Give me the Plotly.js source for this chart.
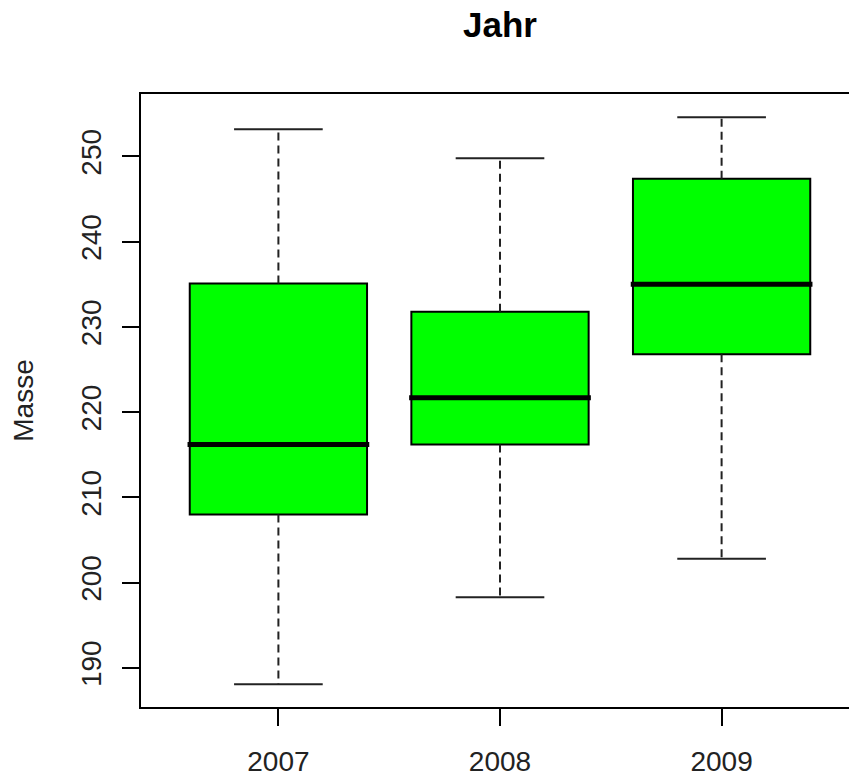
<!DOCTYPE html>
<html>
<head>
<meta charset="utf-8">
<script src="https://cdn.plot.ly/plotly-3.0.1.min.js"></script>
<style>
html, body { margin:0; padding:0; overflow:hidden; background:#fff; width:849px; height:778px; }
#chart { width:870px; height:778px; }
</style>
</head>
<body>
<div id="chart"></div>
<script>
// Data
const categories = ["2007", "2008", "2009"];
const positions = [1, 2, 3];
const lowerWhisker = [188.1, 198.3, 202.8];
const q1Values = [208.0, 216.2, 226.8];
const medianValues = [216.2, 221.7, 235.0];
const q3Values = [235.1, 231.8, 247.4];
const upperWhisker = [253.2, 249.8, 254.6];
const yTicks = [190, 200, 210, 220, 230, 240, 250];

const boxHalf = 0.4;
const capHalf = 0.2;
const font = "Liberation Sans, Arial, sans-serif";

const traces = [];

// Boxes (no whiskers: fences set to the quartiles)
traces.push({
  type: "box",
  x: positions,
  q1: q1Values,
  median: medianValues,
  q3: q3Values,
  lowerfence: q1Values,
  upperfence: q3Values,
  width: boxHalf * 2,
  whiskerwidth: 0,
  fillcolor: "#00FF00",
  line: { color: "#000000", width: 2 },
  boxpoints: false,
  hoverinfo: "skip",
  showlegend: false
});

// Dashed whiskers
const wx = [], wy = [];
positions.forEach((p, i) => {
  wx.push(p, p, null, p, p, null);
  wy.push(q3Values[i], upperWhisker[i], null, q1Values[i], lowerWhisker[i], null);
});
traces.push({
  type: "scatter", mode: "lines", x: wx, y: wy,
  line: { color: "#222222", width: 2, dash: "8px,5px" },
  hoverinfo: "skip", showlegend: false
});

// Staples (caps)
const cx = [], cy = [];
positions.forEach((p, i) => {
  cx.push(p - capHalf, p + capHalf, null, p - capHalf, p + capHalf, null);
  cy.push(upperWhisker[i], upperWhisker[i], null, lowerWhisker[i], lowerWhisker[i], null);
});
traces.push({
  type: "scatter", mode: "lines", x: cx, y: cy,
  line: { color: "#222222", width: 2 },
  hoverinfo: "skip", showlegend: false
});

// Thick medians
const mx = [], my = [];
positions.forEach((p, i) => {
  mx.push(p - boxHalf - 0.01, p + boxHalf + 0.01, null);
  my.push(medianValues[i], medianValues[i], null);
});
traces.push({
  type: "scatter", mode: "lines", x: mx, y: my,
  line: { color: "#000000", width: 5 },
  hoverinfo: "skip", showlegend: false
});

const layout = {
  width: 870,
  height: 778,
  margin: { l: 141, r: 11, t: 94, b: 71, pad: 0 },
  paper_bgcolor: "#ffffff",
  plot_bgcolor: "#ffffff",
  font: { family: font, color: "#000000", size: 28 },
  title: {
    text: "Jahr",
    font: { family: font, size: 35, weight: 700, color: "#000000" },
    x: 0.5 * (718 / 870) + 141 / 870, xref: "container", xanchor: "center",
    y: 1 - 25 / 778, yref: "container", yanchor: "middle"
  },
  xaxis: {
    range: [0.38, 3.62],
    tickmode: "array",
    tickvals: positions,
    ticktext: categories,
    ticks: "outside", ticklen: 17, tickwidth: 2, tickcolor: "#000000",
    tickfont: { family: font, size: 28, color: "#222222" },
    ticklabelstandoff: 11,
    showline: true, mirror: true, linewidth: 2, linecolor: "#000000",
    showgrid: false, zeroline: false, fixedrange: true
  },
  yaxis: {
    range: [185.42, 257.33],
    tickmode: "array",
    tickvals: yTicks,
    ticktext: yTicks.map(String),
    tickangle: -90,
    ticks: "outside", ticklen: 17, tickwidth: 2, tickcolor: "#000000",
    tickfont: { family: font, size: 28, color: "#222222" },
    ticklabelstandoff: 10,
    showline: true, mirror: true, linewidth: 2, linecolor: "#000000",
    showgrid: false, zeroline: false, fixedrange: true,
    title: { text: "Masse", font: { family: font, size: 28, color: "#222222" }, standoff: 34 }
  }
};

Plotly.newPlot("chart", traces, layout, { staticPlot: true, displayModeBar: false });
</script>
</body>
</html>
